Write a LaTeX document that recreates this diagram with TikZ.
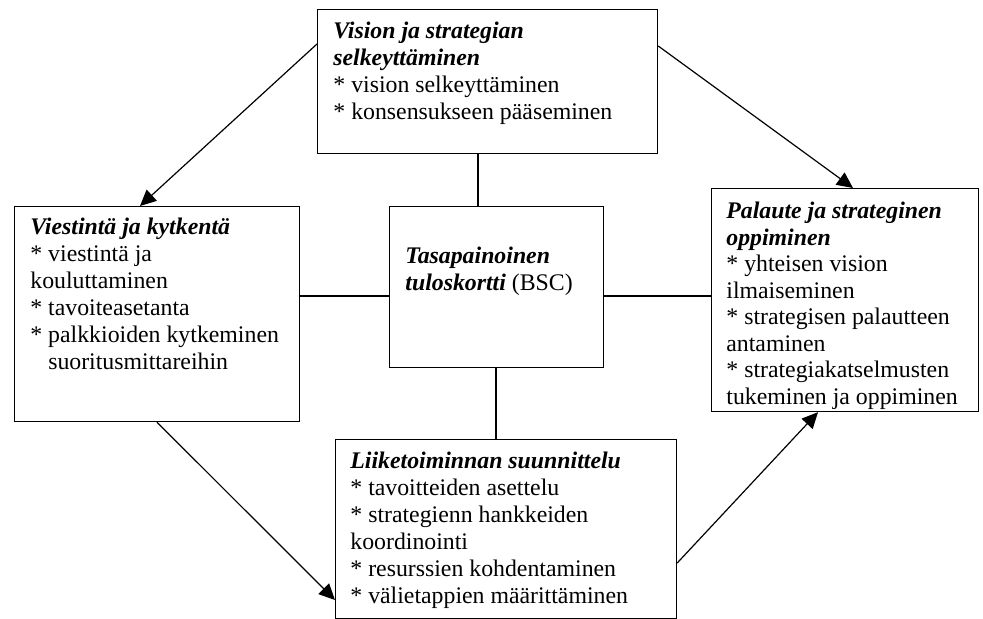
\documentclass[tikz,border=0pt]{standalone}
\usepackage{fontspec}
\setmainfont{Liberation Serif}
\usetikzlibrary{arrows.meta}
\begin{document}
\begin{tikzpicture}[x=0.5pt,y=-0.5pt,
  box/.style={draw,line width=0.6pt,anchor=north west,inner sep=0pt},
  txt/.style={anchor=north west,inner sep=0pt,align=left,
    font=\fontsize{11.9}{13.5}\selectfont},
  link/.style={line width=0.6pt},
  flow/.style={line width=0.6pt,-{Triangle[length=8pt,width=7.5pt]}}]
\useasboundingbox (0,0) rectangle (983,619);
\newcommand{\hdr}[1]{\textbf{\textit{#1}}}

% boxes
\node[box,minimum width=170pt,minimum height=72pt] (vis) at (317,9) {};
\node[box,minimum width=107pt,minimum height=80.5pt] (bsc) at (389,206) {};
\node[box,minimum width=142.5pt,minimum height=107.5pt] (com) at (14,206) {};
\node[box,minimum width=133.5pt,minimum height=111.5pt] (fbk) at (711,188) {};
\node[box,minimum width=170.5pt,minimum height=89.5pt] (pln) at (335,439) {};

% texts
\node[txt] (tvis) at (333,19) {\strut\hdr{Vision ja strategian}\\\hdr{selkeyttäminen}\\
  * vision selkeyttäminen\\* konsensukseen pääseminen};
\node[txt] (tbsc) at (405,244) {\strut\hdr{Tasapainoinen}\\\hdr{tuloskortti} (BSC)};
\node[txt] (tcom) at (30,215) {\strut\hdr{Viestintä ja kytkentä}\\* viestintä ja\\kouluttaminen\\
  * tavoiteasetanta\\* palkkioiden kytkeminen\\\phantom{* }suoritusmittareihin};
\node[txt,font=\fontsize{11.9}{13.25}\selectfont] (tfbk) at (726,200)
  {\strut\hdr{Palaute ja strateginen}\\\hdr{oppiminen}\\
  * yhteisen vision\\ilmaiseminen\\* strategisen palautteen\\antaminen\\
  * strategiakatselmusten\\tukeminen ja oppiminen};
\node[txt] (tpln) at (350,449) {\strut\hdr{Liiketoiminnan suunnittelu}\\* tavoitteiden asettelu\\
  * strategienn hankkeiden\\koordinointi\\* resurssien kohdentaminen\\
  * välietappien määrittäminen};

% guide coordinates for the links
\coordinate (ux) at (478,0);
\coordinate (dx) at (496,0);
\coordinate (hy) at (0,296);
\coordinate (a1) at (0,44);
\coordinate (a2) at (140,0);
\coordinate (b1) at (0,46);
\coordinate (b2) at (853,0);
\coordinate (c1) at (157,0);
\coordinate (c2) at (0,600);
\coordinate (d1) at (0,563);
\coordinate (d2) at (818,0);

% links to the scorecard
\draw[link] (vis.south -| ux) -- (bsc.north -| ux);
\draw[link] (bsc.south -| dx) -- (pln.north -| dx);
\draw[link] (com.east |- hy) -- (bsc.west |- hy);
\draw[link] (bsc.east |- hy) -- (fbk.west |- hy);

% cycle arrows
\draw[flow] (vis.west |- a1) -- (com.north -| a2);
\draw[flow] (vis.east |- b1) -- (fbk.north -| b2);
\draw[flow] (com.south -| c1) -- (pln.west |- c2);
\draw[flow] (pln.east |- d1) -- (fbk.south -| d2);
\end{tikzpicture}
\end{document}
